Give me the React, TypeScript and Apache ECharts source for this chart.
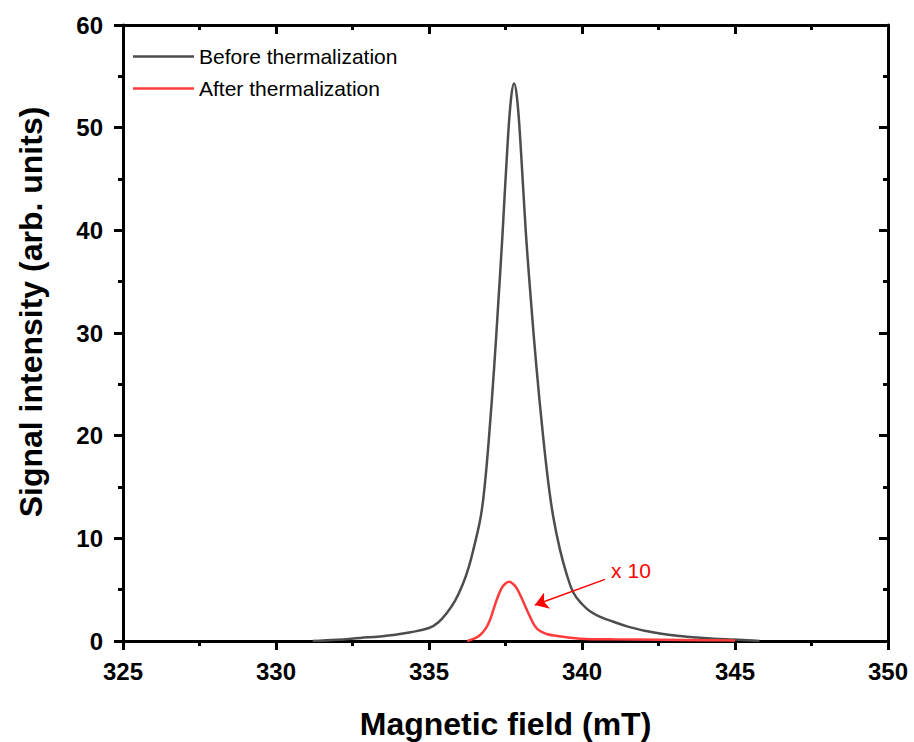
import React, { useEffect, useRef } from "react";
import * as echarts from "echarts";

const FONT = 'Arial, "Liberation Sans", sans-serif';

const xTicks = [325, 330, 335, 340, 345, 350];
const yTicks = [0, 10, 20, 30, 40, 50, 60];

const seriesNames = ["Before thermalization", "After thermalization"];

const beforeX = [
  331.2, 332.0, 332.75, 333.4, 333.83, 334.4, 335.0, 335.3, 335.6, 335.85, 336.1, 336.3,
  336.45, 336.69, 336.83, 336.97, 337.13, 337.27, 337.4, 337.56, 337.68, 337.78, 337.88, 338.0,
  338.16, 338.33, 338.51, 338.72, 338.9, 339.06, 339.28, 339.5, 339.72, 340.0, 340.26, 340.6,
  341.0, 341.5, 342.1, 342.6, 343.2, 343.8, 344.3, 344.9, 345.4, 345.8,
];
const beforeY = [
  0.0, 0.12, 0.3, 0.45, 0.58, 0.85, 1.27, 1.8, 2.8, 3.9, 5.5, 7.2,
  8.9, 12.1, 15.4, 20.2, 26.7, 33.2, 39.5, 48.0, 52.8, 54.3, 52.8, 48.0,
  40.0, 33.2, 26.7, 20.2, 15.4, 12.1, 8.9, 6.5, 4.7, 3.6, 2.9, 2.35,
  1.9, 1.4, 0.97, 0.7, 0.49, 0.33, 0.22, 0.14, 0.08, 0.0,
];

const afterX = [
  336.25, 336.45, 336.67, 336.85, 336.99, 337.1, 337.21, 337.37, 337.5, 337.62, 337.75, 337.87,
  338.08, 338.3, 338.52, 338.85, 339.2, 339.5, 339.93, 341.0, 342.5, 344.0, 345.0,
];
const afterY = [
  0.0, 0.2, 0.58, 1.2, 2.04, 3.0, 4.0, 5.13, 5.6, 5.77, 5.55, 5.13,
  3.83, 2.37, 1.24, 0.68, 0.48, 0.36, 0.23, 0.16, 0.12, 0.08, 0.05,
];

const annotationText = "x 10";
const arrowStart = [340.75, 6.0];
const arrowEnd = [338.46, 3.5];
const textAt = [341.6, 6.85];

const zip = (xs: number[], ys: number[]) => xs.map((x, i) => [x, ys[i]]);

export default function App() {
  const ref = useRef<HTMLDivElement>(null);

  useEffect(() => {
    document.body.style.margin = "0";
    if (!ref.current) return;
    const chart = echarts.init(ref.current, undefined, { renderer: "svg" });

    const axisLine = { show: true, onZero: false, lineStyle: { color: "#000", width: 3 } };
    const xMin = xTicks[0];
    const xMax = xTicks[xTicks.length - 1];
    const yMin = yTicks[0];
    const yMax = yTicks[yTicks.length - 1];

    const tickStyle = { color: "#000", width: 3 };

    const baseX = {
      type: "value",
      min: xMin,
      max: xMax,
      interval: xTicks[1] - xTicks[0],
      axisLine,
      splitLine: { show: false },
    };
    const baseY = {
      type: "value",
      min: yMin,
      max: yMax,
      interval: yTicks[1] - yTicks[0],
      axisLine,
      splitLine: { show: false },
    };

    chart.setOption({
      animation: false,
      backgroundColor: "#fff",
      textStyle: { fontFamily: FONT },
      grid: { left: 123, right: 26, top: 25, bottom: 101, containLabel: false, outerBoundsMode: "none" },
      legend: {
        left: 133,
        top: 46,
        padding: 0,
        orient: "vertical",
        icon: "rect",
        itemWidth: 61,
        itemHeight: 2.5,
        itemGap: 11,
        data: seriesNames,
        textStyle: { fontSize: 21, color: "#000", fontFamily: FONT, lineHeight: 21 },
      },
      xAxis: [
        {
          ...baseX,
          position: "bottom",
          name: "Magnetic field (mT)",
          nameLocation: "middle",
          nameGap: 67,
          nameTextStyle: { fontSize: 32, fontWeight: "bold", color: "#000", fontFamily: FONT },
          axisTick: { show: true, inside: false, length: 9, lineStyle: tickStyle },
          minorTick: { show: true, splitNumber: 2, length: 5, lineStyle: tickStyle },
          axisLabel: { fontSize: 24, fontWeight: "bold", color: "#000", margin: 18, fontFamily: FONT },
        },
        {
          ...baseX,
          position: "top",
          axisTick: { show: true, inside: true, length: 9, lineStyle: tickStyle },
          minorTick: { show: true, splitNumber: 2, length: 5, lineStyle: tickStyle },
          axisLabel: { show: false },
        },
      ],
      yAxis: [
        {
          ...baseY,
          position: "left",
          name: "Signal intensity (arb. units)",
          nameLocation: "middle",
          nameGap: 76,
          nameTextStyle: {
            fontSize: 32,
            fontWeight: "bold",
            color: "#000",
            fontFamily: FONT,
            padding: [0, 0, 0, 42],
          },
          axisTick: { show: true, inside: false, length: 9, lineStyle: tickStyle },
          minorTick: { show: true, splitNumber: 2, length: 5, lineStyle: tickStyle },
          axisLabel: { fontSize: 24, fontWeight: "bold", color: "#000", margin: 20, fontFamily: FONT },
        },
        {
          ...baseY,
          position: "right",
          axisTick: { show: true, inside: true, length: 9, lineStyle: tickStyle },
          minorTick: { show: true, splitNumber: 2, length: 5, lineStyle: tickStyle },
          axisLabel: { show: false },
        },
      ],
      series: [
        {
          name: seriesNames[0],
          type: "line",
          xAxisIndex: 0,
          yAxisIndex: 0,
          data: zip(beforeX, beforeY),
          showSymbol: false,
          symbol: "none",
          smooth: 0.4,
          lineStyle: { color: "#4d4d4d", width: 2.5 },
          itemStyle: { color: "#4d4d4d" },
          z: 3,
        },
        {
          name: seriesNames[1],
          type: "line",
          xAxisIndex: 0,
          yAxisIndex: 0,
          data: zip(afterX, afterY),
          showSymbol: false,
          symbol: "none",
          smooth: 0.4,
          lineStyle: { color: "#ff3b3b", width: 2.5 },
          itemStyle: { color: "#ff3b3b" },
          z: 4,
          markLine: {
            silent: true,
            animation: false,
            symbol: ["none", "arrow"],
            symbolSize: 13,
            label: { show: false },
            lineStyle: { color: "#ff0000", width: 1.5, type: "solid" },
            emphasis: { disabled: true },
            data: [[{ coord: arrowStart }, { coord: arrowEnd }]],
          },
          markPoint: {
            silent: true,
            symbol: "circle",
            symbolSize: 0,
            label: {
              show: true,
              position: "inside",
              formatter: annotationText,
              color: "#ff0000",
              fontSize: 21,
              fontFamily: FONT,
            },
            data: [{ coord: textAt }],
          },
        },
      ],
    });

    return () => chart.dispose();
  }, []);

  return <div ref={ref} style={{ width: 914, height: 742 }} />;
}
